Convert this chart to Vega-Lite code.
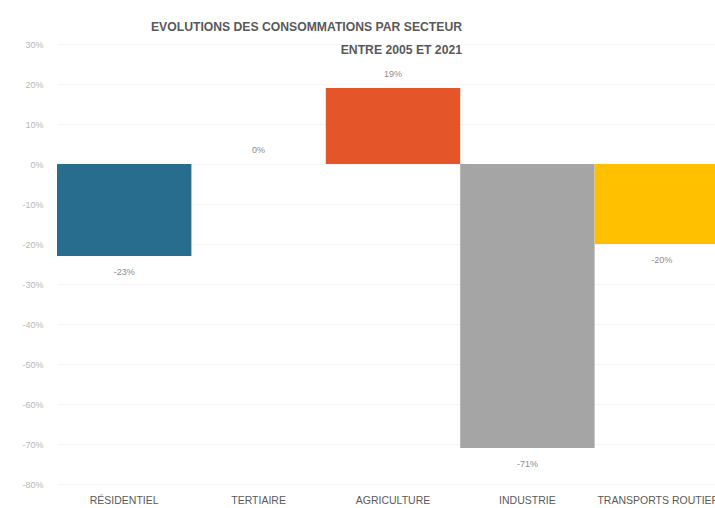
{
  "$schema": "https://vega.github.io/schema/vega-lite/v6.json",
  "autosize": "none",
  "width": 658,
  "height": 440,
  "padding": {"left": 57, "top": 44, "right": 0, "bottom": 24},
  "background": "white",
  "view": {"stroke": null},
  "title": {
    "text": ["EVOLUTIONS DES CONSOMMATIONS PAR SECTEUR", "ENTRE 2005 ET 2021"],
    "anchor": "start",
    "align": "right",
    "dx": 440,
    "offset": -16,
    "font": "Liberation Sans",
    "fontSize": 12.2,
    "fontWeight": "bold",
    "color": "#595959",
    "lineHeight": 23
  },
  "data": {
    "values": [
      {"secteur": "RÉSIDENTIEL", "evolution": -23, "label": "-23%"},
      {"secteur": "TERTIAIRE", "evolution": 0, "label": "0%"},
      {"secteur": "AGRICULTURE", "evolution": 19, "label": "19%"},
      {"secteur": "INDUSTRIE", "evolution": -71, "label": "-71%"},
      {"secteur": "TRANSPORTS ROUTIERS", "evolution": -20, "label": "-20%"}
    ]
  },
  "encoding": {
    "x": {
      "field": "secteur",
      "type": "nominal",
      "sort": null,
      "scale": {"range": [0, 672], "paddingInner": 0, "paddingOuter": 0},
      "axis": {
        "title": null,
        "labelAngle": 0,
        "labelColor": "#595959",
        "labelFont": "Liberation Sans",
        "labelFontSize": 10.5,
        "labelPadding": 11,
        "domain": false,
        "ticks": false
      }
    },
    "y": {
      "field": "evolution",
      "type": "quantitative",
      "scale": {"domain": [-80, 30], "nice": false},
      "axis": {
        "title": null,
        "values": [30, 20, 10, 0, -10, -20, -30, -40, -50, -60, -70, -80],
        "labelExpr": "datum.value + '%'",
        "labelColor": "#b8b8b8",
        "labelFont": "Liberation Sans",
        "labelFontSize": 9,
        "labelPadding": 14,
        "labelOverlap": false,
        "domain": false,
        "ticks": false,
        "gridColor": "#f4f4f4"
      }
    }
  },
  "layer": [
    {
      "mark": {"type": "bar", "clip": false},
      "encoding": {
        "color": {
          "field": "secteur",
          "type": "nominal",
          "sort": null,
          "scale": {"range": ["#286C8E", "#A5A5A5", "#E4552A", "#A5A5A5", "#FFC000"]},
          "legend": null
        }
      }
    },
    {
      "transform": [{"filter": "datum.evolution < 0"}],
      "mark": {
        "type": "text",
        "fontSize": 9,
        "font": "Liberation Sans",
        "color": "#8c8c8c",
        "baseline": "middle",
        "dy": 16,
        "clip": false
      },
      "encoding": {
        "text": {"field": "label"}
      }
    },
    {
      "transform": [{"filter": "datum.evolution >= 0"}],
      "mark": {
        "type": "text",
        "fontSize": 9,
        "font": "Liberation Sans",
        "color": "#8c8c8c",
        "baseline": "middle",
        "dy": -14,
        "clip": false
      },
      "encoding": {
        "text": {"field": "label"}
      }
    }
  ]
}
